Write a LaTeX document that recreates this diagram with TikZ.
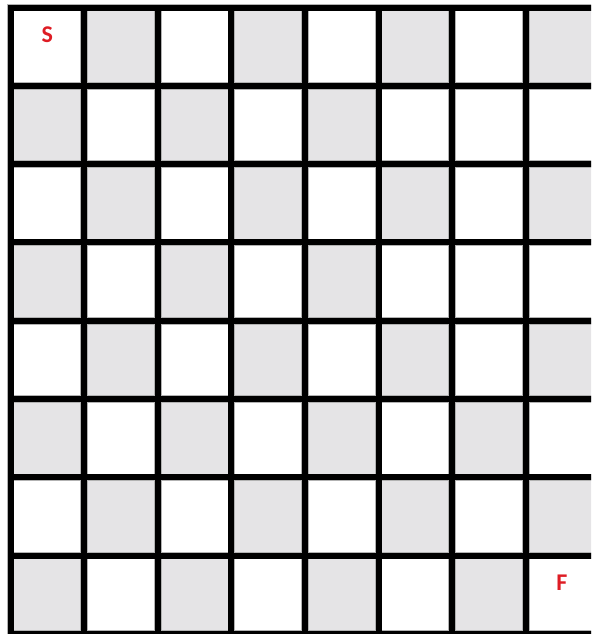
\documentclass[tikz,border=0pt]{standalone}
\usepackage{fontspec}
\setsansfont{Carlito}
\definecolor{cellgray}{RGB}{229,228,230}
\definecolor{markred}{RGB}{222,28,36}
\begin{document}
\begin{tikzpicture}[x=73.6pt, y=-78.3pt, line cap=rect]
	\tikzset{grid edge/.style={gray!60, line width=7.6pt},
		grid line/.style={black, line width=6pt},
		mark label/.style={text=markred, font=\sffamily\bfseries\fontsize{24}{24}\selectfont}}
	\useasboundingbox (-0.143,-0.096) rectangle (7.887,8.0);
	\clip (-0.143,-0.096) rectangle (7.887,8.0);
	% shaded squares
	\foreach \r in {0,...,7}
	\foreach \c in {0,...,7}{
		\pgfmathtruncatemacro{\odd}{mod(\r+\c,2)}
		\ifnum\odd=1 \fill[cellgray] (\c,\r) rectangle ++(1,1); \fi
	}
	% two squares left white
	\fill[white] (6,1) rectangle (7,2) (6,3) rectangle (7,4);
	% grid
	\foreach \i in {0,...,8}{
		\draw[grid edge] (\i,0)--(\i,8) (0,\i)--(8,\i);
	}
	\foreach \i in {0,...,8}{
		\draw[grid line] (\i,0)--(\i,8) (0,\i)--(8,\i);
	}
	\node[mark label] (start) at (0.5,0.35) {S};
	\node[mark label] (finish) at (7.49,7.34) {F};
\end{tikzpicture}
\end{document}
